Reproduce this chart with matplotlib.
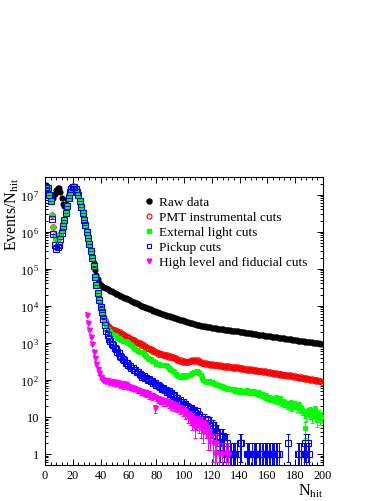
import numpy as np
import matplotlib
matplotlib.use("Agg")
import matplotlib.pyplot as plt
from matplotlib.lines import Line2D
from matplotlib.ticker import FixedLocator, MultipleLocator, LogLocator, NullFormatter, FixedFormatter

plt.rcParams['font.family'] = ['Liberation Serif', 'DejaVu Serif']
plt.rcParams['mathtext.fontset'] = 'custom'
plt.rcParams['mathtext.rm'] = 'Liberation Serif'
plt.rcParams['mathtext.it'] = 'Liberation Serif:italic'

# ---------------- data (events per N_hit bin) ----------------
raw_start = 1
raw_data = [
    1.8e7, 1.3e7, 1.0e7, 8.5e6, 7.9e6, 8.3e6, 1.05e7, 1.3e7, 1.5e7, 1.48e7,
    1.2e7, 8.3e6, 5.6e6, 4.8e6, 5.6e6, 7.6e6, 1.05e7, 1.35e7, 1.58e7, 1.7e7,
    1.66e7, 1.48e7, 1.26e7, 9.5e6, 6.9e6, 4.7e6, 3.2e6, 2.1e6, 1.5e6, 1.02e6,
    7.1e5, 4.8e5, 3.2e5, 2.1e5, 1.4e5, 9.5e4, 6.6e4, 5.2e4, 4.2e4, 3.7e4,
    3.5e4, 3.3e4, 3.1e4, 2.95e4, 2.8e4, 2.7e4, 2.57e4, 2.45e4, 2.34e4, 2.24e4,
    2.14e4, 2.04e4, 1.95e4, 1.86e4, 1.78e4, 1.7e4, 1.66e4, 1.62e4, 1.55e4, 1.48e4,
    1.41e4, 1.35e4, 1.29e4, 1.23e4, 1.17e4, 1.15e4, 1.1e4, 1.05e4, 1.0e4, 9770,
    9440, 9120, 8810, 8510, 8220, 7940, 7670, 7410, 7160, 6920,
    6710, 6520, 6320, 6140, 5960, 5780, 5610, 5450, 5280, 5130,
    4990, 4850, 4720, 4590, 4470, 4350, 4230, 4110, 4000, 3890,
    3790, 3700, 3610, 3520, 3430, 3340, 3260, 3180, 3100, 3020,
    2950, 2900, 2860, 2810, 2770, 2720, 2680, 2640, 2590, 2550,
    2510, 2470, 2430, 2400, 2370, 2340, 2320, 2290, 2260, 2240,
    2210, 2190, 2160, 2140, 2110, 2090, 2070, 2040, 2020, 2000,
    1970, 1940, 1920, 1890, 1870, 1840, 1820, 1790, 1770, 1750,
    1720, 1700, 1670, 1650, 1630, 1610, 1590, 1570, 1550, 1520,
    1510, 1490, 1470, 1450, 1430, 1410, 1390, 1370, 1360, 1340,
    1320, 1310, 1290, 1280, 1260, 1240, 1230, 1210, 1200, 1180,
    1170, 1150, 1140, 1130, 1110, 1100, 1080, 1070, 1060, 1040,
    1030, 1020, 1010, 995, 982, 970, 957, 946, 933,
]

pmt_start = 1
pmt_cuts = [
    1.65e7, 1.48e7, 1.0e7, 6.6e6, 2.8e6, 1.38e6, 7.9e5, 6.3e5, 6.4e5, 7.2e5,
    8.5e5, 1.1e6, 1.5e6, 2.1e6, 3.2e6, 5.0e6, 7.9e6, 1.15e7, 1.45e7, 1.62e7,
    1.58e7, 1.45e7, 1.2e7, 9.5e6, 6.9e6, 4.7e6, 3.2e6, 2.1e6, 1.5e6, 1.0e6,
    6.9e5, 4.6e5, 3.0e5, 1.9e5, 1.15e5, 6.0e4, 3.6e4, 2.2e4, 1.45e4, 9500,
    6900, 5200, 4200, 3400, 2900,
    2620, 2380, 2330, 2150, 2180, 2010, 2050, 1880, 1900, 1740,
    1730, 1590, 1540, 1420, 1400, 1290, 1280, 1170, 1180, 1070,
    1080, 970, 980, 890, 900, 810, 820, 740, 745, 675,
    680, 615, 620, 560, 565, 510, 530, 490, 505, 470,
    480, 445, 460, 425, 440, 405, 420, 380, 385, 345,
    350, 322, 335, 308, 318, 300, 312, 296, 320, 315,
    338, 330, 345, 322, 335, 305, 300, 282, 290, 270,
    278, 262, 270, 255, 264, 248, 258, 244, 250, 236,
    246, 230, 240, 226, 233, 221, 229, 217, 225, 212,
    220, 207, 215, 203, 209, 198, 206, 193, 200, 189,
    196, 184, 190, 181, 186, 176, 182, 172, 177, 168,
    173, 164, 168, 160, 165, 156, 160, 151, 157, 146,
    151, 143, 147, 139, 143, 134, 139, 131, 134, 127,
    131, 123, 126, 121, 124, 116, 120, 114, 117, 110,
    113, 107, 111, 104, 107, 101, 104, 98, 100, 95,
    97, 92, 93, 89,
]

ext_start = 1
ext_light_cuts = [
    1.65e7, 1.48e7, 1.0e7, 6.6e6, 2.8e6, 1.38e6, 7.9e5, 6.3e5, 6.4e5, 7.2e5,
    8.5e5, 1.1e6, 1.5e6, 2.1e6, 3.2e6, 5.0e6, 7.9e6, 1.15e7, 1.45e7, 1.62e7,
    1.58e7, 1.45e7, 1.2e7, 9.5e6, 6.9e6, 4.7e6, 3.2e6, 2.1e6, 1.5e6, 1.0e6,
    6.9e5, 4.6e5, 3.0e5, 1.9e5, 1.15e5, 6.0e4, 3.6e4, 2.2e4, 1.45e4, 9500,
    6900, 5200, 4200, 3000, 2400,
    2140, 1950, 1780, 1660, 1580, 1480, 1380, 1320, 1260, 1200,
    1150, 1120, 1100, 1070, 1000, 930, 850, 760, 710, 660,
    630, 600, 575, 560, 550, 510, 480, 437, 400, 372,
    355, 331, 316, 295, 275, 269, 263, 257, 251, 251,
    245, 245, 234, 214, 200, 186, 174, 158, 145, 132,
    126, 120, 123, 132, 126, 120, 126, 132, 138, 145,
    151, 158, 166, 174, 162, 151, 132, 115, 100, 93,
    89, 87, 91, 85, 87, 83, 79, 76, 72, 71,
    69, 66, 63, 62, 60, 59, 58, 58,
    56, 54, 58, 51, 53, 49, 52, 50, 47, 51,
    48, 53, 46, 49, 50, 45, 48, 47, 44, 46,
    40, 42, 38, 40, 35, 37, 33, 34, 30, 32,
    31, 29, 33, 28, 27, 30, 25, 26, 23, 24,
    21, 22, 20, 23, 19, 21, 22, 18, 20, 21,
    17, 15, 13, 5, 11, 14, 12, 15, 10, 13,
    16, 11, 8, 12, 9, 10,
]

pickup_start = 1
pickup_cuts = [
    1.65e7, 1.48e7, 1.0e7, 6.6e6, 2.2e6, 8.9e5, 4.5e5, 3.5e5, 3.8e5, 4.5e5,
    6.3e5, 9.5e5, 1.4e6, 2.1e6, 3.2e6, 5.0e6, 7.9e6, 1.15e7, 1.45e7, 1.62e7,
    1.58e7, 1.45e7, 1.2e7, 9.5e6, 6.9e6, 4.7e6, 3.2e6, 2.1e6, 1.5e6, 1.0e6,
    6.9e5, 4.6e5, 3.0e5, 1.9e5, 1.15e5, 6.0e4, 3.6e4, 2.2e4, 1.45e4, 9500,
    6900, 4470, 3000, 2100,
    1580, 1240, 1090, 915, 845, 725, 672, 578, 522, 448,
    415, 362, 338, 289, 276, 244, 240, 212, 209, 184,
    183, 160, 159, 140, 139, 121, 124, 111, 113, 101,
    103, 92, 94, 84, 83, 73, 74, 66, 65, 58,
    60, 53, 54, 48, 49, 42, 44, 37, 38, 33,
    33, 29, 29, 25, 25, 21, 22, 18, 19, 16,
    17, 14, 15, 13, 14, 10, 11, 8, 9, 7,
    9, 6, 8, 5, 7, 5, 6,
    5, 3, 4, 3, 2, 3, 3, 2, 1, 2,
    1, 1, 1, 1, 1, 1, 1, 0, 2, 2,
    0, 0, 0, 1, 1, 1, 0, 1, 1, 1,
    1, 0, 1, 1, 1, 1, 1, 1, 1, 1,
    1, 1, 1, 1, 1, 1, 1, 0, 0, 0,
    0, 0, 0, 2, 0, 0, 0, 0, 0, 0,
    1, 1, 1, 0, 1, 2, 1, 2, 1,
]

hl_start = 30
high_level_cuts = [
    5500, 3500, 2200, 1400, 900, 580, 400, 270, 195, 148,
    118, 108, 100, 95, 90, 92, 84, 90, 80, 86,
    78, 88, 82, 74, 80, 70, 76, 66, 78, 64,
    68, 60, 64, 57, 60, 56, 52, 54, 50, 46,
    48, 44, 46, 41, 43, 37, 39, 35, 37, 17,
    33, 29, 31, 27, 28, 25, 27, 24, 26, 22,
    23, 20, 22, 19, 20, 18, 19, 16, 17, 14,
    15, 12, 13, 10, 9, 11, 7, 8, 5, 7,
    8, 6, 5, 7, 4, 6, 5, 3, 4, 3,
    0, 2, 1, 2, 0, 1, 0, 1, 0, 0,
    1, 0, 1,
]

labels = ["Raw data", "PMT instrumental cuts", "External light cuts",
          "Pickup cuts", "High level and fiducial cuts"]
colors = ["#000000", "#ff0000", "#00ff00", "#0000ff", "#ff00ff"]

# ---------------- figure ----------------
fig = plt.figure(figsize=(3.88, 5.02), dpi=100)
ax = fig.add_axes([45/388, 1 - 466/502, 278/388, 288/502])
ax.set_yscale('log', nonpositive='clip')
ax.set_xlim(0, 200)
ax.set_ylim(0.5, 3e7)

def series(start, vals):
    v = np.asarray(vals, dtype=float)
    x = np.arange(start, start + len(v))
    m = v > 0
    return x[m], v[m]

def draw(start, vals, color, marker, ms, filled, err=True, z=2):
    x, v = series(start, vals)
    fc = color if filled else 'none'
    if err:
        e = np.sqrt(v)
        lo = np.minimum(e, v * 0.9999)
        ax.errorbar(x, v, yerr=[lo, e], fmt='none', ecolor=color,
                    elinewidth=0.7, capsize=1.2, capthick=0.7, zorder=z)
    ax.plot(x, v, linestyle='none', marker=marker, ms=ms, mfc=fc,
            mec=color, mew=0.8, zorder=z + 0.5)

draw(raw_start, raw_data, colors[0], 'o', 3.6, True, err=False, z=2)
draw(pmt_start, pmt_cuts, colors[1], 'o', 3.9, False, z=3)
draw(ext_start, ext_light_cuts, colors[2], 's', 3.2, True, z=4)
draw(pickup_start, pickup_cuts, colors[3], 's', 3.7, False, z=5)
draw(hl_start, high_level_cuts, colors[4], 'v', 3.6, True, z=6)

# axes styling
for s in ax.spines.values():
    s.set_linewidth(0.8)
ax.xaxis.set_major_locator(MultipleLocator(20))
ax.xaxis.set_minor_locator(MultipleLocator(4))
yt = [1, 10, 1e2, 1e3, 1e4, 1e5, 1e6, 1e7]
ax.yaxis.set_major_locator(FixedLocator(yt))
ax.yaxis.set_major_formatter(FixedFormatter(
    ["1", "10", r"$10^{\,2}$", r"$10^{\,3}$", r"$10^{\,4}$", r"$10^{\,5}$",
     r"$10^{\,6}$", r"$10^{\,7}$"]))
ax.yaxis.set_minor_locator(LogLocator(base=10, subs=np.arange(2, 10), numticks=20))
ax.yaxis.set_minor_formatter(NullFormatter())
ax.tick_params(which='both', direction='in', top=True, right=True,
               labelsize=8.8, width=0.7, colors='black')
ax.tick_params(which='major', length=4.6)
ax.tick_params(which='minor', length=2.4)
ax.tick_params(axis='y', pad=4)
ax.tick_params(axis='x', pad=3)

ax.set_ylabel(r"Events/N$_{\rm hit}$", fontsize=11.5, loc='top')
ax.yaxis.set_label_coords(-0.085, 1.0)
ax.set_xlabel(r"N$_{\rm hit}$", fontsize=11.5, loc='right')
ax.xaxis.set_label_coords(1.0, -0.058)

handles = [
    Line2D([], [], ls='none', marker='o', ms=3.6, mfc=colors[0], mec=colors[0]),
    Line2D([], [], ls='none', marker='o', ms=3.6, mfc='none', mec=colors[1], mew=0.8),
    Line2D([], [], ls='none', marker='s', ms=3.2, mfc=colors[2], mec=colors[2]),
    Line2D([], [], ls='none', marker='s', ms=3.4, mfc='none', mec=colors[3], mew=0.8),
    Line2D([], [], ls='none', marker='v', ms=3.4, mfc=colors[4], mec=colors[4]),
]
ax.legend(handles, labels, loc='upper left',
          bbox_to_anchor=((144 - 45) / 278, (466 - 197) / 288),
          frameon=False, fontsize=9.6, handlelength=0.75, handletextpad=0.35,
          labelspacing=0.2, borderpad=0, borderaxespad=0)

fig.savefig("out.png", dpi=100)
